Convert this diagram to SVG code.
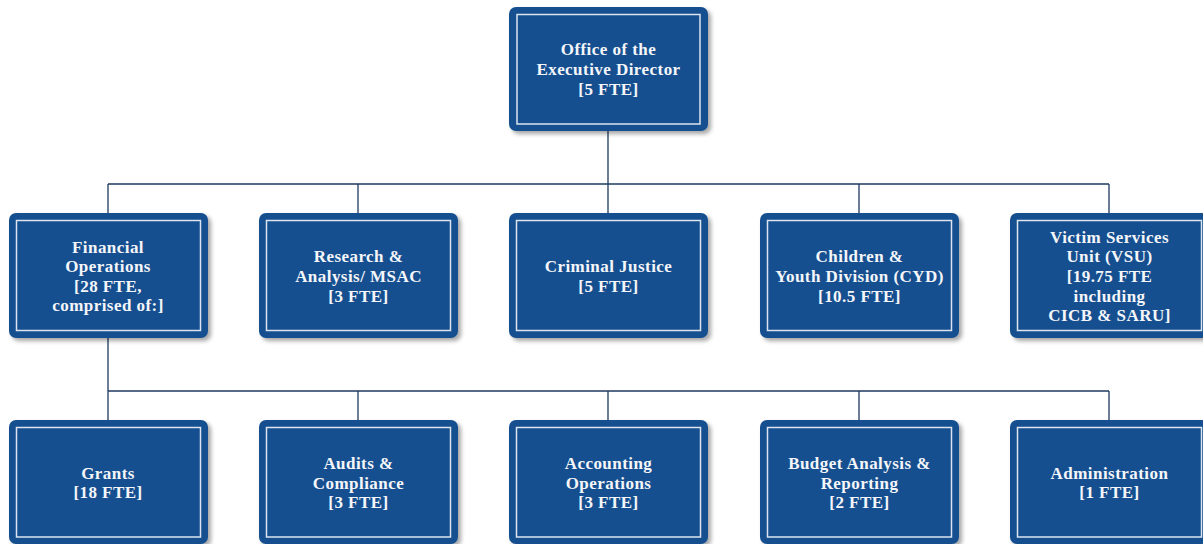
<svg xmlns="http://www.w3.org/2000/svg" width="1203" height="544" viewBox="0 0 1203 544">
  <defs>
    <filter id="sh" x="-10%" y="-10%" width="130%" height="130%">
      <feDropShadow dx="3" dy="3" stdDeviation="2" flood-color="#000" flood-opacity="0.35"/>
    </filter>
    <style>
      .box{fill:#154f8f;filter:url(#sh);}
      .inner{fill:none;stroke:#dbe4f0;stroke-width:1.5;}
      .lbl{font-family:'Liberation Serif','DejaVu Serif',serif;font-weight:bold;font-size:17px;letter-spacing:0.45px;fill:#f4f6fa;text-anchor:middle;}
      .conn{fill:none;stroke:#1f3a60;stroke-width:1.3;}
    </style>
  </defs>
  <rect width="1203" height="544" fill="#ffffff"/>
  <g id="connectors">
    <path class="conn" d="M608,131 V184 M108,184 H1109 M108,184 V213 M358,184 V213 M608,184 V213 M859,184 V213 M1109,184 V213"/>
    <path class="conn" d="M108,338 V391 M108,391 H1109 M108,391 V420 M358,391 V420 M608,391 V420 M859,391 V420 M1109,391 V420"/>
  </g>
  <g id="n-exec">
    <rect class="box" x="509" y="7" width="199" height="124" rx="7"/>
    <rect class="inner" x="517" y="14.5" width="183" height="109.5"/>
    <text class="lbl" x="608.5" y="55.4"><tspan x="608.5">Office of the</tspan><tspan x="608.5" dy="19.6">Executive Director</tspan><tspan x="608.5" dy="19.6">[5 FTE]</tspan></text>
  </g>
  <g id="n-fin">
    <rect class="box" x="9" y="213" width="199" height="125" rx="7"/>
    <rect class="inner" x="16.5" y="220.5" width="184" height="110"/>
    <text class="lbl" x="108" y="252.6"><tspan x="108">Financial</tspan><tspan x="108" dy="19.6">Operations</tspan><tspan x="108" dy="19.6">[28 FTE,</tspan><tspan x="108" dy="19.6">comprised of:]</tspan></text>
  </g>
  <g id="n-research">
    <rect class="box" x="259" y="213" width="199" height="125" rx="7"/>
    <rect class="inner" x="266.5" y="220.5" width="184" height="110"/>
    <text class="lbl" x="358.5" y="262.4"><tspan x="358.5">Research &amp;</tspan><tspan x="358.5" dy="19.6">Analysis/ MSAC</tspan><tspan x="358.5" dy="19.6">[3 FTE]</tspan></text>
  </g>
  <g id="n-cj">
    <rect class="box" x="509" y="213" width="199" height="125" rx="7"/>
    <rect class="inner" x="516.5" y="220.5" width="184" height="110"/>
    <text class="lbl" x="608.5" y="272.2"><tspan x="608.5">Criminal Justice</tspan><tspan x="608.5" dy="19.6">[5 FTE]</tspan></text>
  </g>
  <g id="n-cyd">
    <rect class="box" x="760" y="213" width="199" height="125" rx="7"/>
    <rect class="inner" x="767.5" y="220.5" width="184" height="110"/>
    <text class="lbl" x="859.5" y="262.4"><tspan x="859.5">Children &amp;</tspan><tspan x="859.5" dy="19.6">Youth Division (CYD)</tspan><tspan x="859.5" dy="19.6">[10.5 FTE]</tspan></text>
  </g>
  <g id="n-vsu">
    <rect class="box" x="1010" y="213" width="199" height="125" rx="7"/>
    <rect class="inner" x="1017.5" y="220.5" width="184" height="110"/>
    <text class="lbl" x="1109.5" y="242.8"><tspan x="1109.5">Victim Services</tspan><tspan x="1109.5" dy="19.6">Unit (VSU)</tspan><tspan x="1109.5" dy="19.6">[19.75 FTE</tspan><tspan x="1109.5" dy="19.6">including</tspan><tspan x="1109.5" dy="19.6">CICB &amp; SARU]</tspan></text>
  </g>
  <g id="n-grants">
    <rect class="box" x="9" y="420" width="199" height="124" rx="7"/>
    <rect class="inner" x="16.5" y="427.5" width="184" height="109.5"/>
    <text class="lbl" x="108" y="478.7"><tspan x="108">Grants</tspan><tspan x="108" dy="19.6">[18 FTE]</tspan></text>
  </g>
  <g id="n-audits">
    <rect class="box" x="259" y="420" width="199" height="124" rx="7"/>
    <rect class="inner" x="266.5" y="427.5" width="184" height="109.5"/>
    <text class="lbl" x="358.5" y="468.9"><tspan x="358.5">Audits &amp;</tspan><tspan x="358.5" dy="19.6">Compliance</tspan><tspan x="358.5" dy="19.6">[3 FTE]</tspan></text>
  </g>
  <g id="n-acct">
    <rect class="box" x="509" y="420" width="199" height="124" rx="7"/>
    <rect class="inner" x="516.5" y="427.5" width="184" height="109.5"/>
    <text class="lbl" x="608.5" y="468.9"><tspan x="608.5">Accounting</tspan><tspan x="608.5" dy="19.6">Operations</tspan><tspan x="608.5" dy="19.6">[3 FTE]</tspan></text>
  </g>
  <g id="n-budget">
    <rect class="box" x="760" y="420" width="199" height="124" rx="7"/>
    <rect class="inner" x="767.5" y="427.5" width="184" height="109.5"/>
    <text class="lbl" x="859.5" y="468.9"><tspan x="859.5">Budget Analysis &amp;</tspan><tspan x="859.5" dy="19.6">Reporting</tspan><tspan x="859.5" dy="19.6">[2 FTE]</tspan></text>
  </g>
  <g id="n-admin">
    <rect class="box" x="1010" y="420" width="199" height="124" rx="7"/>
    <rect class="inner" x="1017.5" y="427.5" width="184" height="109.5"/>
    <text class="lbl" x="1109.5" y="478.7"><tspan x="1109.5">Administration</tspan><tspan x="1109.5" dy="19.6">[1 FTE]</tspan></text>
  </g>
</svg>
